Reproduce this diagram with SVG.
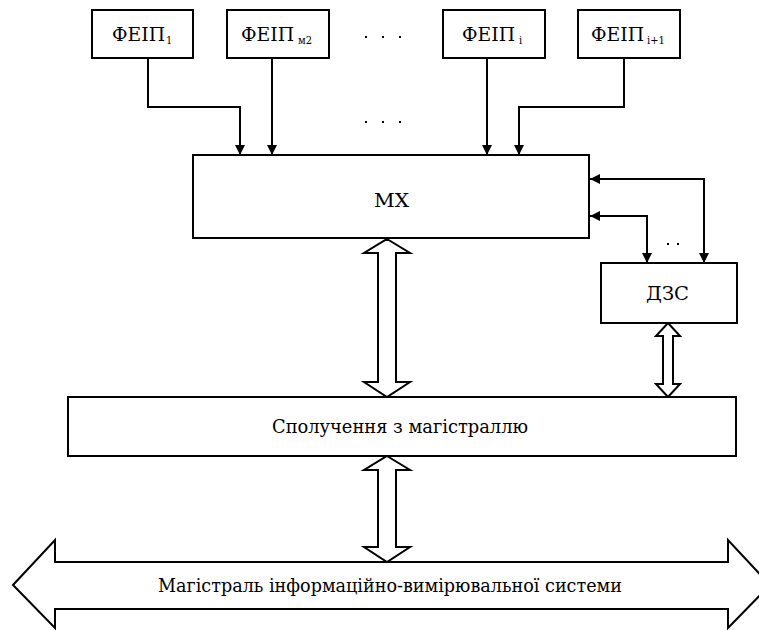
<svg xmlns="http://www.w3.org/2000/svg" width="759" height="630" viewBox="0 0 759 630">
<style>
.box{fill:#fff;stroke:#000;stroke-width:2}
.t{font-family:"DejaVu Serif Condensed","DejaVu Serif","Liberation Serif",serif;font-stretch:condensed;font-size:19px;fill:#000}
.sub{font-family:"DejaVu Serif Condensed","DejaVu Serif","Liberation Serif",serif;font-stretch:condensed;font-size:11px;fill:#000}
.ln{fill:none;stroke:#000;stroke-width:2}
.hol{fill:#fff;stroke:#000;stroke-width:2;stroke-linejoin:miter}
.dot{fill:#000}
</style>
<defs>
<marker id="ah" viewBox="0 0 10 10" refX="10" refY="5" markerWidth="10" markerHeight="10" markerUnits="userSpaceOnUse" orient="auto-start-reverse">
<path d="M0,0 L10,5 L0,10 Z" fill="#000"/>
</marker>
</defs>
<rect width="759" height="630" fill="#fff"/>
<g id="connectors">
<polyline class="ln" points="148,58 148,107 240,107 240,155" marker-end="url(#ah)"/>
<polyline class="ln" points="272,58 272,155" marker-end="url(#ah)"/>
<polyline class="ln" points="487,58 487,155" marker-end="url(#ah)"/>
<polyline class="ln" points="624,58 624,107 519,107 519,155" marker-end="url(#ah)"/>
<polyline class="ln" points="590,179 704,179 704,263" marker-start="url(#ah)" marker-end="url(#ah)"/>
<polyline class="ln" points="590,216 647,216 647,263" marker-start="url(#ah)" marker-end="url(#ah)"/>
<polygon class="hol" points="387,239 410,253 396,253 396,382 410,382 387,397 364,382 378,382 378,253 364,253"/>
<polygon class="hol" points="668,323 680,336 673,336 673,384 680,384 668,397 656,384 663,384 663,336 656,336"/>
<polygon class="hol" points="387,456 410,470 396,470 396,547 410,547 387,562 364,547 378,547 378,470 364,470"/>
</g>
<g id="dots">
<rect class="dot" x="365" y="36" width="2" height="2"/><rect class="dot" x="382" y="36" width="2" height="2"/><rect class="dot" x="399" y="36" width="2" height="2"/>
<rect class="dot" x="365" y="121" width="2" height="2"/><rect class="dot" x="382" y="121" width="2" height="2"/><rect class="dot" x="399" y="121" width="2" height="2"/>
<rect class="dot" x="667" y="243" width="2" height="2"/><rect class="dot" x="677" y="243" width="2" height="2"/>
</g>
<g id="feip1"><rect class="box" x="92" y="10" width="101" height="48"/><text class="t" x="112" y="41" textLength="53" lengthAdjust="spacingAndGlyphs">ФЕІП</text><text class="sub" x="166" y="44">1</text></g>
<g id="feip2"><rect class="box" x="227" y="10" width="102" height="48"/><text class="t" x="241" y="41" textLength="53" lengthAdjust="spacingAndGlyphs">ФЕІП</text><text class="sub" x="298" y="44">м2</text></g>
<g id="feipi"><rect class="box" x="443" y="10" width="102" height="48"/><text class="t" x="462" y="41" textLength="53" lengthAdjust="spacingAndGlyphs">ФЕІП</text><text class="sub" x="519" y="44">i</text></g>
<g id="feipi1"><rect class="box" x="578" y="10" width="102" height="48"/><text class="t" x="591" y="41" textLength="53" lengthAdjust="spacingAndGlyphs">ФЕІП</text><text class="sub" x="647" y="44">i+1</text></g>
<g id="mx"><rect class="box" x="193" y="155" width="396" height="83"/><text class="t" x="374" y="207" textLength="35" lengthAdjust="spacingAndGlyphs">МХ</text></g>
<g id="dzs"><rect class="box" x="601" y="263" width="136" height="60"/><text class="t" x="646" y="300" textLength="43" lengthAdjust="spacingAndGlyphs">ДЗС</text></g>
<g id="spoluch"><rect class="box" x="68" y="397" width="668" height="59"/><text class="t" x="272" y="433" textLength="256" lengthAdjust="spacingAndGlyphs">Сполучення з магістраллю</text></g>
<g id="bus"><polygon class="hol" points="13,585 55,540 55,562 728,562 728,540 770,585 728,628 728,609 55,609 55,628"/><text class="t" x="158" y="592" textLength="464" lengthAdjust="spacingAndGlyphs">Магістраль інформаційно-вимірювальної системи</text></g>
</svg>
